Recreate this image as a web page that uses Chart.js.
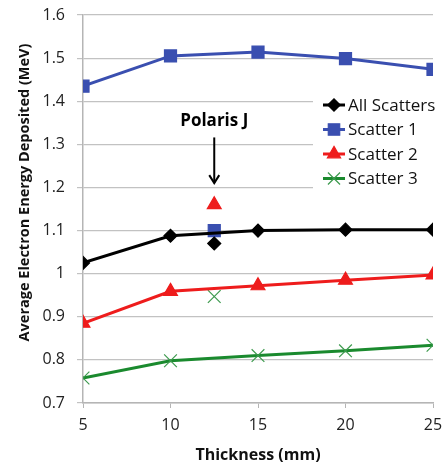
<!DOCTYPE html>
<html>
<head>
<meta charset="utf-8">
<script src="https://cdn.jsdelivr.net/npm/chart.js@4/dist/chart.umd.min.js"></script>
<style>
  html, body { margin: 0; padding: 0; background: #fff; }
  #wrap { width: 444px; height: 469px; }
</style>
</head>
<body>
<div id="wrap"><canvas id="energyChart" width="444" height="469"></canvas></div>
<script>
const thickness = [5, 10, 15, 20, 25];
const allScatters = [1.025, 1.088, 1.100, 1.102, 1.102];
const scatter1 = [1.435, 1.505, 1.514, 1.499, 1.474];
const scatter2 = [0.885, 0.959, 0.972, 0.985, 0.997];
const scatter3 = [0.758, 0.798, 0.810, 0.821, 0.834];

// Polaris J measurements (single thickness)
const polarisX = 12.5;
const polarisAll = 1.07;
const polarisS1 = 1.10;
const polarisS2 = 1.16;
const polarisS3 = 0.947;

const yTicks = [0.7, 0.8, 0.9, 1.0, 1.1, 1.2, 1.3, 1.4, 1.5, 1.6];
const xTicks = [5, 10, 15, 20, 25];

const FONT = "'Open Sans', 'Liberation Sans', sans-serif";
const pts = ys => thickness.map((x, i) => ({ x: x, y: ys[i] }));

const series = [
  { label: 'All Scatters', color: '#000000', edge: '#000000', style: 'rectRot', r: 6.5, data: allScatters, pj: polarisAll },
  { label: 'Scatter 1', color: '#3a4fb0', edge: '#3a4fb0', style: 'rect', r: 8.5, data: scatter1, pj: polarisS1 },
  { label: 'Scatter 2', color: '#ee1c1c', edge: '#ee1c1c', style: 'triangle', r: 8, data: scatter2, pj: polarisS2 },
  { label: 'Scatter 3', color: '#1a8a2e', edge: '#3d9a4e', style: 'crossRot', r: 9, data: scatter3, pj: polarisS3 },
];

const datasets = [];
series.forEach(s => {
  datasets.push({
    label: s.label,
    data: pts(s.data),
    borderColor: s.color,
    backgroundColor: s.color,
    borderWidth: 3,
    pointStyle: s.style,
    pointRadius: s.r,
    pointBorderWidth: 1.2,
    pointBorderColor: s.edge,
    tension: 0,
  });
});
series.forEach(s => {
  datasets.push({
    label: s.label + ' (Polaris J)',
    data: [{ x: polarisX, y: s.pj }],
    showLine: false,
    borderColor: s.edge,
    backgroundColor: s.color,
    pointStyle: s.style,
    pointRadius: s.r,
    pointBorderWidth: 1.2,
  });
});

const annotation = {
  id: 'annotation',
  afterDatasetsDraw(chart) {
    const ctx = chart.ctx;
    const xs = chart.scales.x, ys = chart.scales.y;
    const px = xs.getPixelForValue(polarisX);
    const yTop = ys.getPixelForValue(1.316);
    const yEnd = ys.getPixelForValue(1.21);
    ctx.save();
    ctx.fillStyle = '#000';
    ctx.font = "bold 17px " + FONT;
    ctx.textAlign = 'center';
    ctx.textBaseline = 'middle';
    ctx.fillText('Polaris J', px, ys.getPixelForValue(1.353));
    ctx.strokeStyle = '#000';
    ctx.lineWidth = 2;
    ctx.beginPath();
    ctx.moveTo(px, yTop);
    ctx.lineTo(px, yEnd);
    ctx.stroke();
    ctx.beginPath();
    ctx.moveTo(px - 5, yEnd - 8);
    ctx.lineTo(px, yEnd);
    ctx.lineTo(px + 5, yEnd - 8);
    ctx.stroke();
    ctx.restore();
  }
};

const lineLegend = {
  id: 'lineLegend',
  afterDatasetsDraw(chart) {
    const ctx = chart.ctx;
    const left = 323, top = 93;
    ctx.save();
    ctx.fillStyle = '#fff';
    ctx.fillRect(313, top, 444 - 313, 99);
    series.forEach((s, i) => {
      const y = top + 12 + i * 24.5;
      ctx.strokeStyle = s.color;
      ctx.lineWidth = 3;
      ctx.beginPath();
      ctx.moveTo(left, y);
      ctx.lineTo(left + 22, y);
      ctx.stroke();
      ctx.fillStyle = s.color;
      ctx.strokeStyle = s.edge;
      ctx.lineWidth = 1.2;
      Chart.helpers.drawPoint(ctx, { pointStyle: s.style, radius: s.r * 0.95, borderWidth: 1.2 }, left + 11, y);
      ctx.font = "17px " + FONT;
      ctx.textBaseline = 'middle';
      ctx.textAlign = 'left';
      ctx.fillStyle = '#111';
      ctx.fillText(s.label, left + 25, y + 1);
    });
    ctx.restore();
  }
};

const yTitle = {
  id: 'yTitle',
  afterDraw(chart) {
    const ctx = chart.ctx;
    ctx.save();
    ctx.translate(24.5, 192.5);
    ctx.rotate(-Math.PI / 2);
    ctx.font = "bold 14.5px " + FONT;
    ctx.fillStyle = '#111';
    ctx.textAlign = 'center';
    ctx.textBaseline = 'middle';
    ctx.fillText('Average Electron Energy Deposited (MeV)', 0, 0);
    ctx.restore();
  }
};

new Chart(document.getElementById('energyChart').getContext('2d'), {
  type: 'line',
  data: { datasets: datasets },
  options: {
    responsive: false,
    animation: false,
    layout: { padding: { top: 15, right: 11, left: 0, bottom: 0 } },
    plugins: {
      legend: { display: false },
      tooltip: { enabled: false },
    },
    scales: {
      x: {
        type: 'linear',
        min: 5,
        max: 25,
        afterBuildTicks: axis => { axis.ticks = xTicks.map(v => ({ value: v })); },
        afterFit: axis => { axis.height = 66; axis.paddingLeft = 0; axis.paddingRight = 0; },
        grid: { drawOnChartArea: false, drawTicks: true, tickLength: 5, color: '#b5b5b5' },
        border: { color: '#b5b5b5', width: 1.5 },
        ticks: { font: { family: FONT, size: 16 }, color: '#222', padding: 8, maxRotation: 0 },
        title: { display: true, text: 'Thickness (mm)', font: { family: FONT, size: 16, weight: 'bold' }, color: '#111', padding: { top: 0, bottom: 4 } },
      },
      y: {
        min: 0.7,
        max: 1.6,
        afterBuildTicks: axis => { axis.ticks = yTicks.map(v => ({ value: v })); },
        afterFit: axis => { axis.width = 83; axis.paddingTop = 0; axis.paddingBottom = 0; },
        grid: { color: '#c2c2c2', lineWidth: 1.2, tickLength: 6 },
        border: { color: '#b5b5b5', width: 1.5 },
        ticks: { font: { family: FONT, size: 16 }, color: '#222', padding: 12, callback: v => String(+v.toFixed(1)) },
        title: { display: false },
      },
    },
  },
  plugins: [annotation, lineLegend, yTitle],
});
</script>
</body>
</html>
